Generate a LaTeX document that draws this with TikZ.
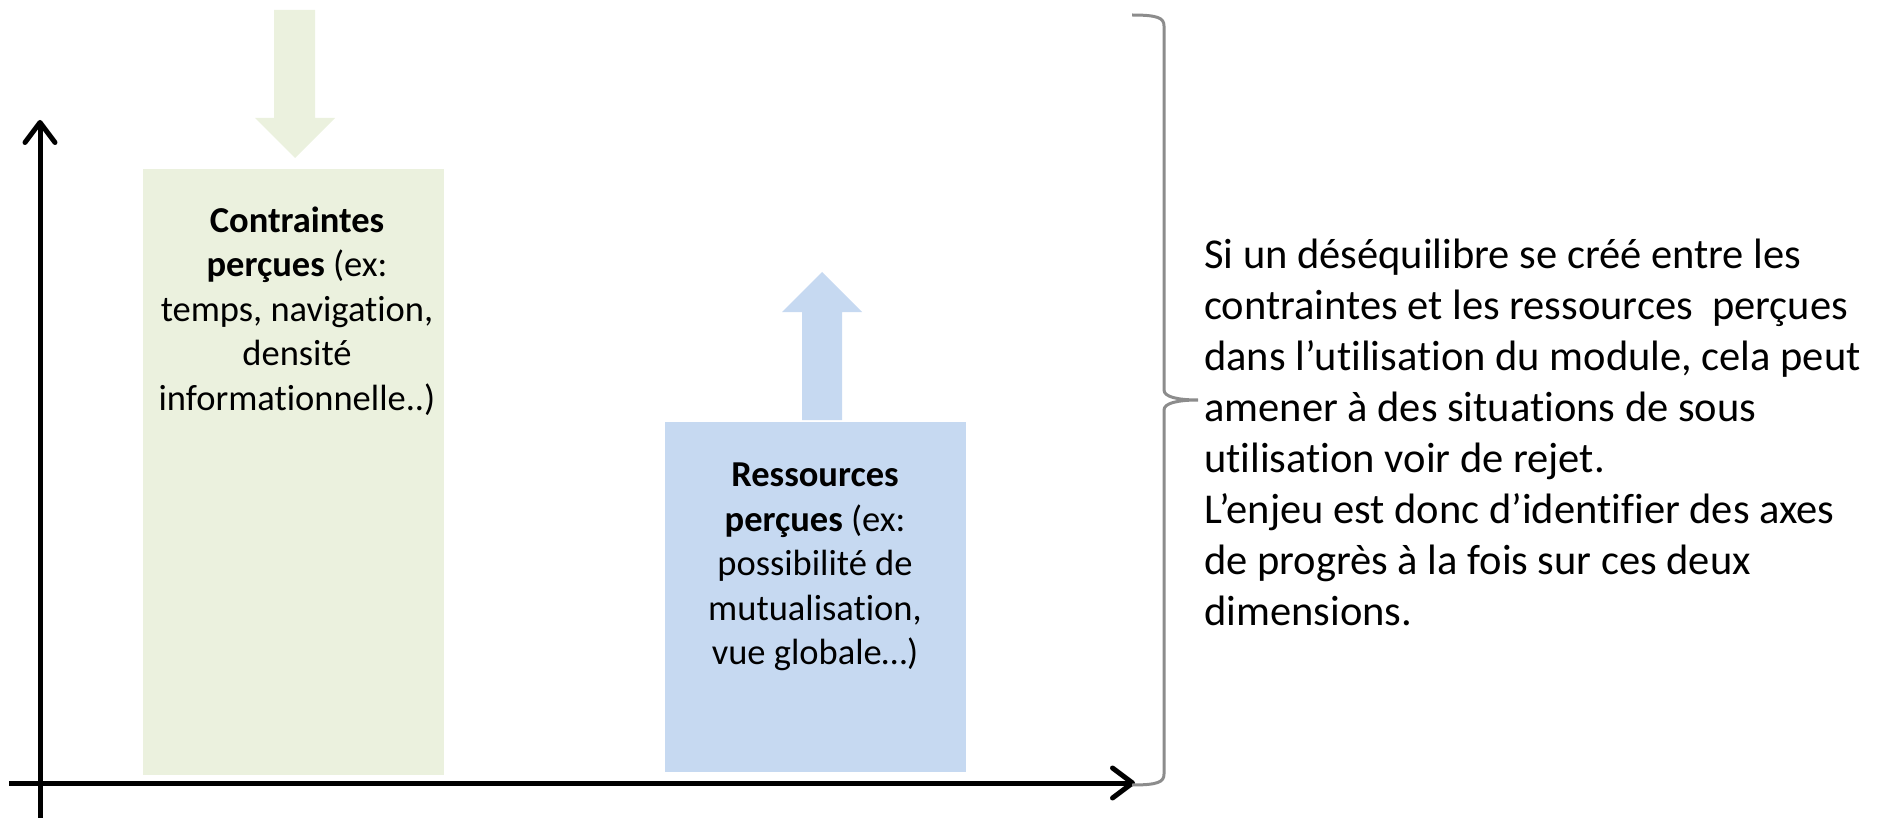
\documentclass[tikz,border=0pt]{standalone}
\usepackage{fontspec}
\setmainfont{Carlito}[Ligatures=NoCommon]
\usetikzlibrary{arrows.meta}
\definecolor{boxgreen}{HTML}{EBF1DE}
\definecolor{boxblue}{HTML}{C6D9F1}
\definecolor{bracegray}{HTML}{8C8C8C}
\begin{document}
\begin{tikzpicture}[x=1pt,y=-1pt,
  axis/.style={line width=5pt, -{Straight Barb[length=20pt,width=30pt,line cap=round,line join=round]}},
  bar/.style={draw=none, inner sep=0pt, outer sep=0pt, anchor=north west},
  boxtext/.style={font=\fontsize{36.5}{44.5}\selectfont, align=center, inner sep=0pt},
  note/.style={font=\fontsize{42.5}{51}\selectfont, align=left, anchor=west, inner sep=0pt},
  bracestyle/.style={draw=bracegray, line width=3pt}
  ]
\useasboundingbox (0,0) rectangle (1881,818);
% bars
\node[bar, fill=boxgreen, minimum width=301pt, minimum height=606pt] (cbox) at (143,169) {};
\node[bar, fill=boxblue, minimum width=301pt, minimum height=350pt] (rbox) at (665,422) {};
% block arrows
\fill[boxgreen] (274,10) -- (315,10) -- (315,118) -- (335,118) -- (295,158) -- (255,118) -- (274,118) -- cycle;
\fill[boxblue] (802,420) -- (842,420) -- (842,312) -- (862,312) -- (822,272) -- (782,312) -- (802,312) -- cycle;
% axes
\coordinate (ybot) at (40,818);
\coordinate (ytop) at (40,120);
\coordinate (xleft) at (9,783);
\coordinate (xright) at (1135,783);
\draw[axis] (ybot) -- (ytop);
\draw[axis] (xleft) -- (xright);
% brace
\draw[bracestyle] (1132,15) .. controls (1158,15) and (1164,18) .. (1164,26)
  -- (1164,390) .. controls (1164,397) and (1178,400) .. (1198,400)
  .. controls (1178,400) and (1164,403) .. (1164,410)
  -- (1164,774) .. controls (1164,782) and (1158,785) .. (1132,785);
% texts
\node[boxtext] (ctext) at (297,311) {\textbf{Contraintes}\\\textbf{perçues} (ex:\\temps, navigation,\\densité\\informationnelle..)};
\node[boxtext] (rtext) at (815,567) {\textbf{Ressources}\\\textbf{perçues} (ex:\\possibilité de\\mutualisation,\\vue globale…)};
\node[note] (note) at (1204,432) {Si un déséquilibre se créé entre les\\contraintes et les ressources~ perçues\\dans l’utilisation du module, cela peut\\amener à des situations de sous\\utilisation voir de rejet.\\L’enjeu est donc d’identifier des axes\\de progrès à la fois sur ces deux\\dimensions.};
\end{tikzpicture}
\end{document}
